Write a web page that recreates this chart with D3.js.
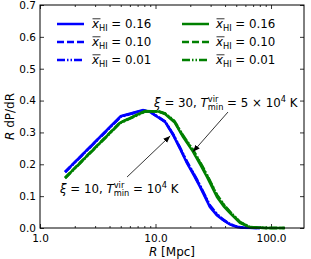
<!DOCTYPE html>
<html lang="en">
  <head>
    <meta charset="UTF-8" />
    <title>R dP/dR</title>
  </head>
  <style type="text/css">
    body { margin: 0; background: #fff; }
    svg text { font-family: 'DejaVu Sans', sans-serif; fill: #000; }
  </style>
  <script src="https://d3js.org/d3.v7.min.js"></script>

  <body>
    <div class="d3Chart"></div>
  </body>
  <script type="text/javascript">
    // 数据
    const rBlue = [1.65, 5.0, 7.8, 9.0, 12.1, 14.2, 16.5, 18.7, 21.5, 24.3, 29.6, 34.0, 38.4, 44.0, 50.8, 58.0, 80.0]
    const blue016 = [0.176, 0.351, 0.370, 0.364, 0.333, 0.292, 0.245, 0.204, 0.165, 0.129, 0.066, 0.040, 0.025, 0.011, 0.003, 0.001, 0.0]
    const blue010 = [0.176, 0.350, 0.369, 0.364, 0.334, 0.294, 0.247, 0.207, 0.168, 0.132, 0.069, 0.042, 0.026, 0.012, 0.004, 0.001, 0.0]
    const blue001 = [0.175, 0.349, 0.369, 0.365, 0.335, 0.295, 0.249, 0.209, 0.170, 0.134, 0.071, 0.044, 0.027, 0.013, 0.004, 0.001, 0.0]

    const rGreen = [1.65, 4.93, 8.1, 10.5, 12.1, 14.6, 17.3, 21.1, 24.5, 27.9, 34.1, 39.0, 44.2, 53.9, 65.8, 90.0, 132.0]
    const green016 = [0.157, 0.330, 0.367, 0.366, 0.358, 0.332, 0.286, 0.240, 0.198, 0.160, 0.097, 0.068, 0.047, 0.016, 0.002, 0.0, 0.0]
    const green010 = [0.158, 0.331, 0.366, 0.366, 0.359, 0.334, 0.289, 0.244, 0.203, 0.165, 0.102, 0.072, 0.050, 0.018, 0.003, 0.0, 0.0]
    const green001 = [0.156, 0.329, 0.365, 0.367, 0.360, 0.336, 0.291, 0.246, 0.205, 0.167, 0.104, 0.074, 0.051, 0.019, 0.003, 0.0, 0.0]

    const legendValues = ['0.16', '0.10', '0.01']
    const xMajor = [1, 10, 100]
    const yTicks = [0, 0.1, 0.2, 0.3, 0.4, 0.5, 0.6, 0.7]

    // annotations: text anchor and arrow [tail, head] in data units
    const notes = [
      { xi: '30', tpre: '5 × 10', tsup: '4', text: [9.72, 0.38], arrow: [[42.4, 0.364], [21.1, 0.239]] },
      { xi: '10', tpre: '10', tsup: '4', text: [1.49, 0.11], arrow: [[5.67, 0.16], [13.4, 0.289]] }
    ]

    // 画布
    const width = 311
    const height = 259
    const margin = { top: 5, right: 7, bottom: 31, left: 40 }
    const fs = 10.5
    const mfs = 11.8
    const lfs = 12
    const svg = d3
      .select('.d3Chart')
      .append('svg')
      .attr('width', width)
      .attr('height', height)
    const chart = svg.append('g').attr('transform', `translate(${margin.left}, ${margin.top})`)
    const w = width - margin.left - margin.right
    const h = height - margin.top - margin.bottom

    const x = d3.scaleLog().domain([1, 193]).range([0, w])
    const y = d3.scaleLinear().domain([0, 0.7]).range([h, 0])

    const xMinor = []
    for (let d = 1; d <= 100; d *= 10) {
      for (let k = 2; k <= 9; k++) if (d * k < 193) xMinor.push(d * k)
    }

    // 坐标轴
    const fmt = d3.format('.1f')
    const axes = [
      chart.append('g').attr('transform', `translate(0,${h})`).call(d3.axisBottom(x).tickValues(xMajor).tickSize(-4).tickPadding(6.5).tickFormat(fmt)),
      chart.append('g').attr('transform', `translate(0,${h})`).call(d3.axisBottom(x).tickValues(xMinor).tickSize(-2).tickFormat('')),
      chart.append('g').call(d3.axisTop(x).tickValues(xMajor).tickSize(-4).tickFormat('')),
      chart.append('g').call(d3.axisTop(x).tickValues(xMinor).tickSize(-2).tickFormat('')),
      chart.append('g').call(d3.axisLeft(y).tickValues(yTicks).tickSize(-4).tickPadding(4).tickFormat(fmt)),
      chart.append('g').attr('transform', `translate(${w},0)`).call(d3.axisRight(y).tickValues(yTicks).tickSize(-4).tickFormat(''))
    ]
    axes.forEach((a) => {
      a.select('.domain').remove()
      a.selectAll('text').style('font-size', fs + 'px').attr('font-family', null)
      a.selectAll('line').attr('stroke', '#000').attr('stroke-width', 0.8)
    })

    // 曲线
    const line = (rs) =>
      d3
        .line()
        .x((d, i) => x(rs[i]))
        .y((d) => y(d))
    const dashes = ['none', '7,3', '8,2,1.5,2,1.5,2']
    const series = [
      { r: rBlue, v: blue016, c: '#0000ff', dash: dashes[0] },
      { r: rBlue, v: blue010, c: '#0000ff', dash: dashes[1] },
      { r: rBlue, v: blue001, c: '#0000ff', dash: dashes[2] },
      { r: rGreen, v: green016, c: '#008000', dash: dashes[0] },
      { r: rGreen, v: green010, c: '#008000', dash: dashes[1] },
      { r: rGreen, v: green001, c: '#008000', dash: dashes[2] }
    ]
    chart
      .append('g')
      .attr('fill', 'none')
      .selectAll()
      .data(series)
      .join('path')
      .attr('d', (s) => line(s.r)(s.v))
      .attr('stroke', (s) => s.c)
      .attr('stroke-width', 2.5)
      .attr('stroke-dasharray', (s) => s.dash)

    // 边框
    chart.append('rect').attr('width', w).attr('height', h).attr('fill', 'none').attr('stroke', '#000').attr('stroke-width', 1)

    // math text helper
    function mathText(g, x0, y0, parts) {
      let cx = x0
      parts.forEach((p) => {
        if (p.stack) {
          const a = g.append('text').attr('x', cx).attr('y', y0 - mfs * 0.42).style('font-size', mfs * 0.7 + 'px').text(p.stack[0])
          const b = g.append('text').attr('x', cx).attr('y', y0 + mfs * 0.3).style('font-size', mfs * 0.7 + 'px').text(p.stack[1])
          cx += Math.max(a.node().getComputedTextLength(), b.node().getComputedTextLength())
        } else {
          const s = p.s || 1
          const t = g
            .append('text')
            .attr('x', cx)
            .attr('y', y0 + (p.dy || 0) * mfs)
            .style('font-size', mfs * s + 'px')
            .style('font-style', p.i ? 'italic' : 'normal')
            .attr('xml:space', 'preserve')
            .text(p.t)
          const tw = t.node().getComputedTextLength()
          if (p.bar) {
            g.append('line')
              .attr('x1', cx + 0.5).attr('x2', cx + tw + 1.5)
              .attr('y1', y0 - mfs * 0.78).attr('y2', y0 - mfs * 0.78)
              .attr('stroke', '#000').attr('stroke-width', 0.8)
          }
          cx += tw
        }
      })
      return cx
    }

    // 图例
    const legendCols = [
      { c: '#0000ff', x: 17, tx: 52 },
      { c: '#008000', x: 142, tx: 176 }
    ]
    legendCols.forEach((col) => {
      legendValues.forEach((v, i) => {
        const ly = 19 + i * 18
        chart
          .append('line')
          .attr('x1', col.x).attr('x2', col.x + 27)
          .attr('y1', ly).attr('y2', ly)
          .attr('stroke', col.c)
          .attr('stroke-width', 2.5)
          .attr('stroke-dasharray', dashes[i])
        const g = chart.append('g')
        mathText(g, col.tx, ly + 4, [
          { t: 'x', i: true, bar: true },
          { t: 'HI', s: 0.7, dy: 0.25 },
          { t: ' = ' + v }
        ])
      })
    })

    // 注释
    const defs = svg.append('defs')
    defs
      .append('marker')
      .attr('id', 'head')
      .attr('viewBox', '0 0 10 10')
      .attr('refX', 10)
      .attr('refY', 5)
      .attr('markerWidth', 7)
      .attr('markerHeight', 7)
      .attr('markerUnits', 'userSpaceOnUse')
      .attr('orient', 'auto')
      .append('path')
      .attr('d', 'M0,1 L10,5 L0,9 Z')
      .attr('fill', '#000')
    notes.forEach((n) => {
      chart
        .append('line')
        .attr('x1', x(n.arrow[0][0])).attr('y1', y(n.arrow[0][1]))
        .attr('x2', x(n.arrow[1][0])).attr('y2', y(n.arrow[1][1]))
        .attr('stroke', '#000')
        .attr('stroke-width', 0.8)
        .attr('marker-end', 'url(#head)')
      const g = chart.append('g')
      mathText(g, x(n.text[0]), y(n.text[1]), [
        { t: 'ξ', i: true },
        { t: ' = ' + n.xi + ', ' },
        { t: 'T', i: true },
        { stack: ['vir', 'min'] },
        { t: ' = ' + n.tpre },
        { t: n.tsup, s: 0.7, dy: -0.42 },
        { t: ' K' }
      ])
    })

    // 轴标题
    svg
      .append('text')
      .attr('x', margin.left + w / 2)
      .attr('y', 256)
      .attr('text-anchor', 'middle')
      .style('font-size', lfs + 'px')
      .html('<tspan font-style="italic">R</tspan> [Mpc]')
    svg
      .append('text')
      .attr('transform', `translate(14, ${margin.top + h / 2}) rotate(-90)`)
      .attr('text-anchor', 'middle')
      .style('font-size', lfs + 'px')
      .html('<tspan font-style="italic">R</tspan> dP/dR')
  </script>
</html>
